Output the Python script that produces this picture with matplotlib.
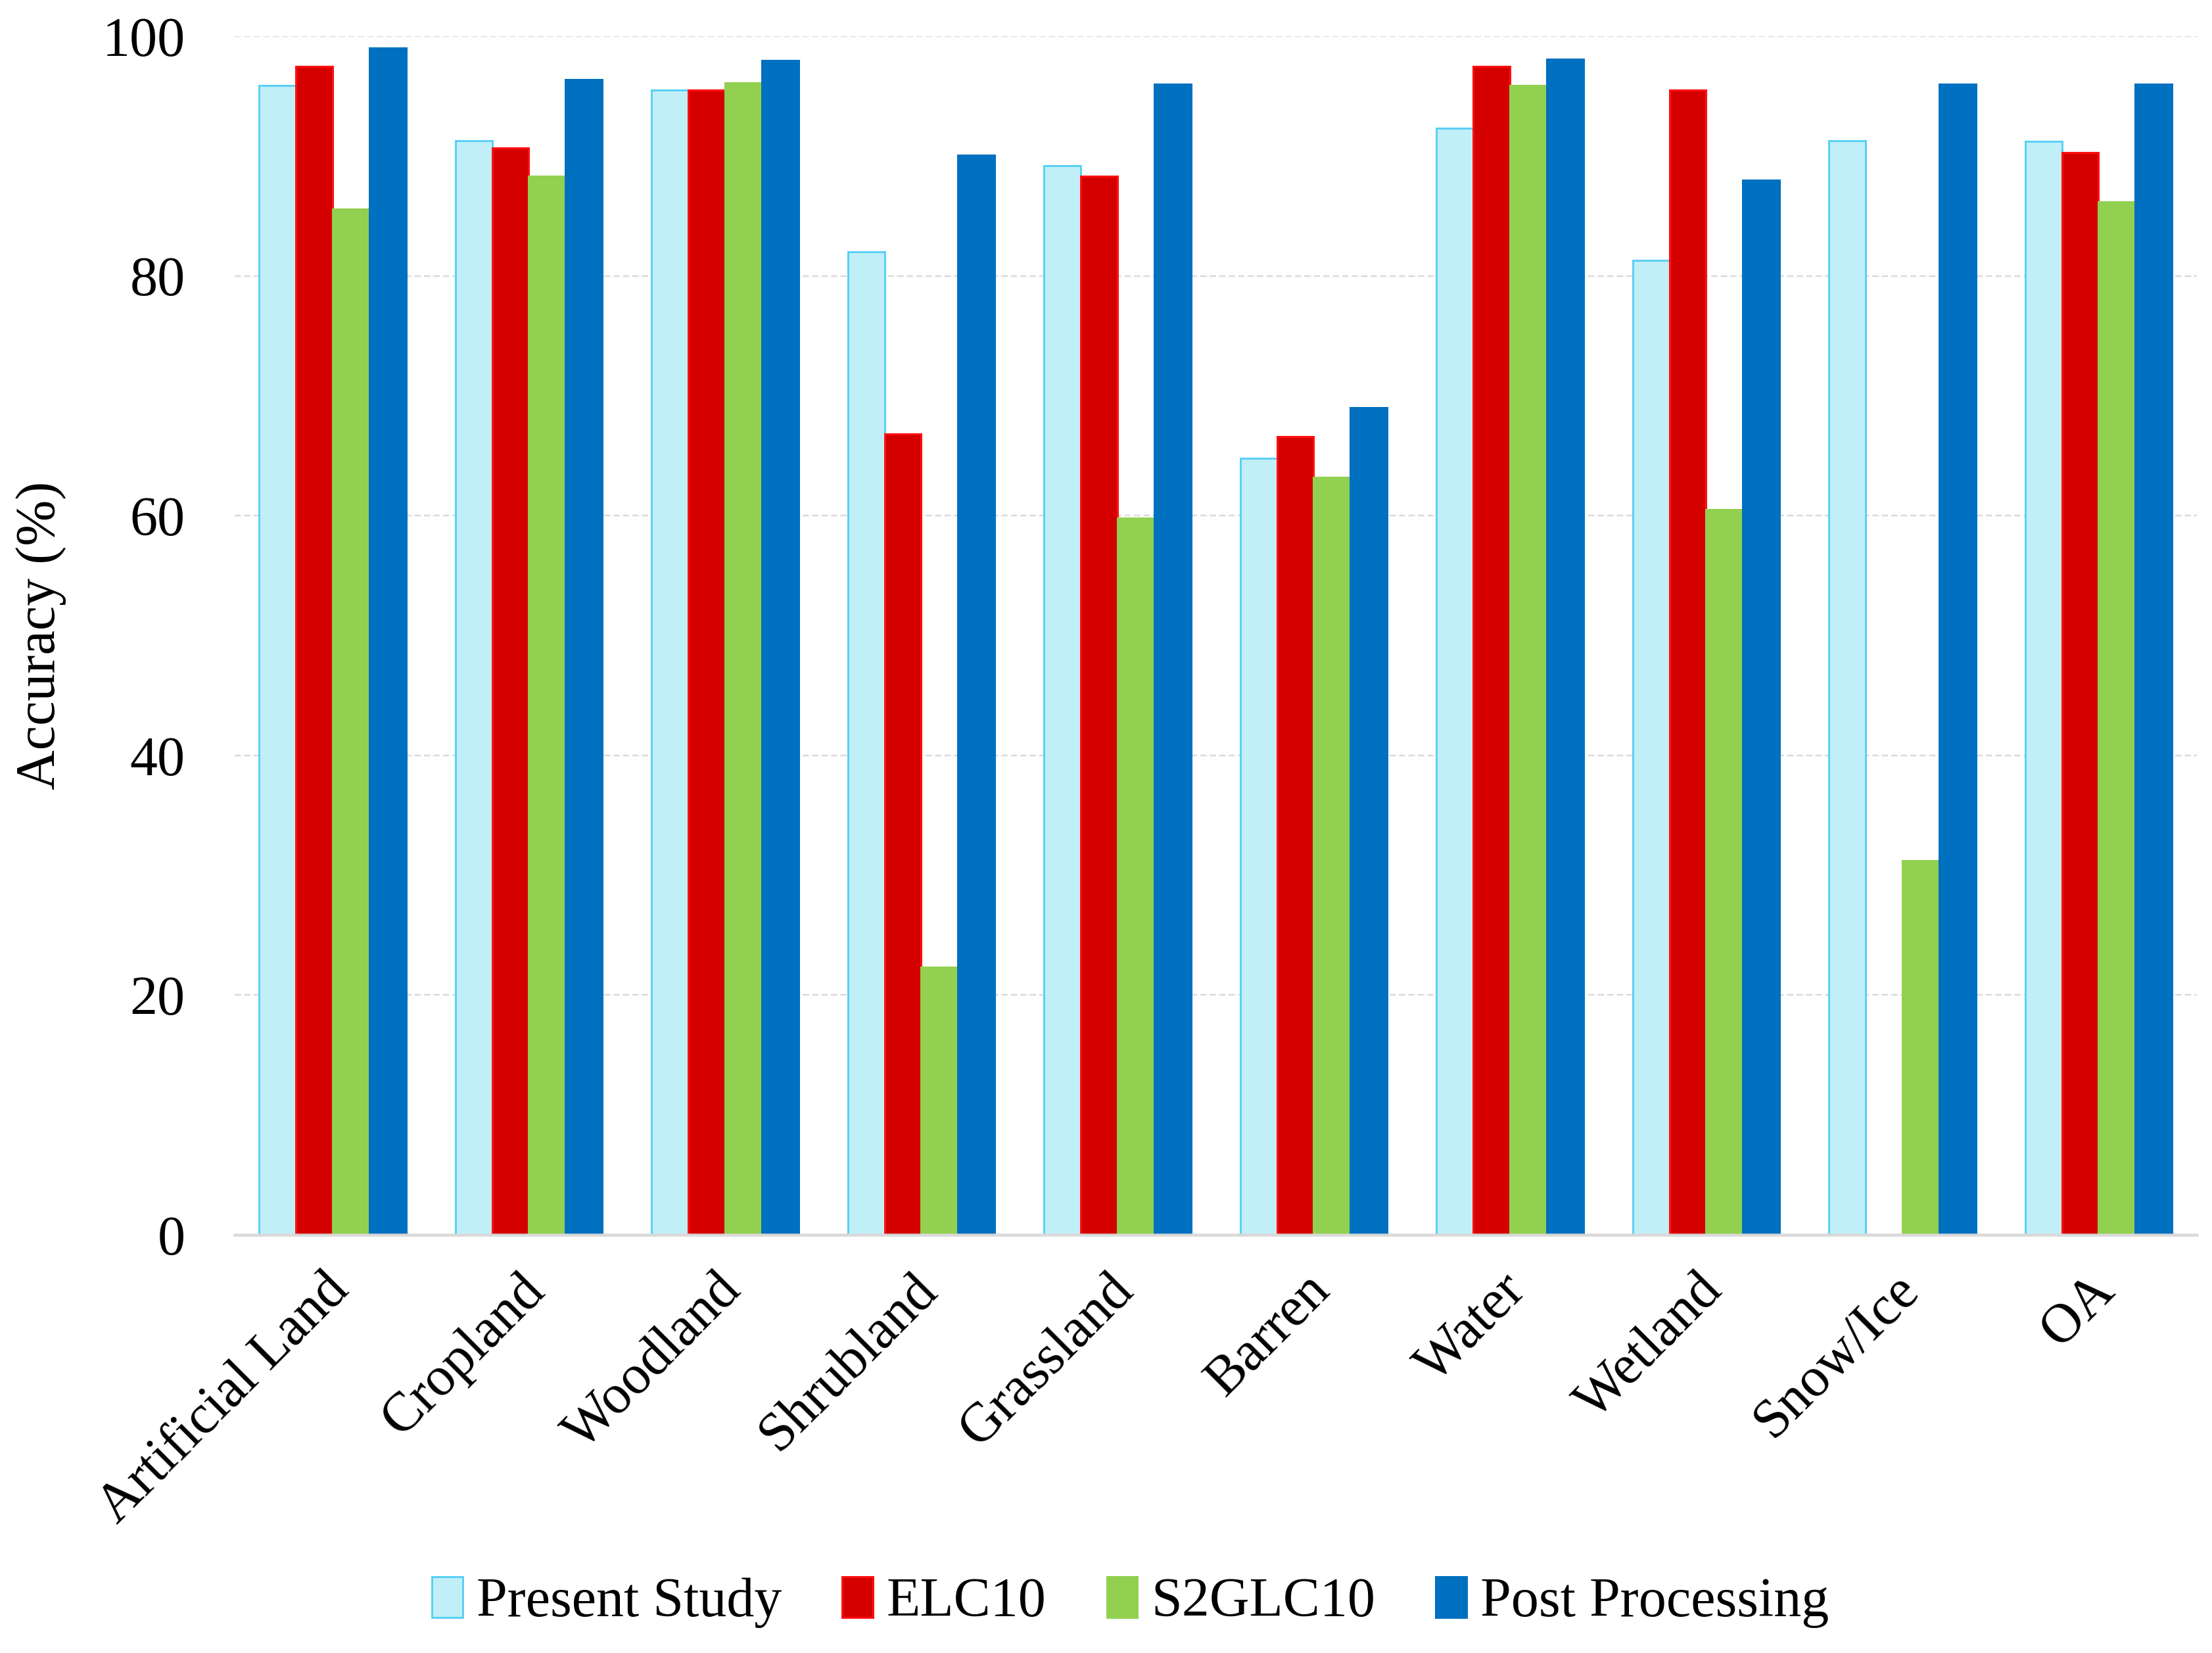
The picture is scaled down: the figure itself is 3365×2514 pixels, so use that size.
import numpy as np
import matplotlib
matplotlib.use("Agg")
import matplotlib.pyplot as plt
import matplotlib.transforms as mtransforms

categories = ["Artificial Land", "Cropland", "Woodland", "Shrubland", "Grassland",
              "Barren", "Water", "Wetland", "Snow/Ice", "OA"]
present_study = [95.9, 91.3, 95.5, 82.0, 89.2, 64.8, 92.3, 81.3, 91.3, 91.2]
elc10 = [97.5, 90.7, 95.5, 66.8, 88.3, 66.6, 97.5, 95.5, 0.0, 90.3]
s2glc10 = [85.6, 88.3, 96.1, 22.3, 59.8, 63.2, 95.9, 60.5, 31.2, 86.2]
post_processing = [99.0, 96.4, 98.0, 90.1, 96.0, 69.0, 98.1, 88.0, 96.0, 96.0]

series = [
    ("Present Study", present_study, "#C0EFF7", "#5BD0F5"),
    ("ELC10", elc10, "#D40000", "#FF1010"),
    ("S2GLC10", s2glc10, "#92D050", "#92D050"),
    ("Post Processing", post_processing, "#0070C0", "#0070C0"),
]

plt.rcParams['font.family'] = ['Liberation Serif', 'DejaVu Serif']

fig = plt.figure(figsize=(15.58, 11.64), dpi=216)
ax = fig.add_axes([0.106, 0.253, 0.887, 0.725])

x = np.arange(len(categories))
w = 0.1875
for i, (name, vals, fc, ec) in enumerate(series):
    ax.bar(x + (i - 1.5) * w, vals, width=w, color=fc, edgecolor=ec,
           linewidth=1.0, label=name, zorder=3)

ax.set_xlim(-0.5, len(categories) - 0.5)
ax.set_ylim(0, 100)
ax.set_yticks([0, 20, 40, 60, 80, 100])
ax.yaxis.grid(True, linestyle=(0, (4, 2)), color="#D9D9D9", linewidth=0.8, zorder=0)
ax.set_axisbelow(True)

for s in ["top", "right", "left"]:
    ax.spines[s].set_visible(False)
ax.spines["bottom"].set_color("#D9D9D9")
ax.spines["bottom"].set_linewidth(1.5)
ax.spines["bottom"].set_zorder(4)

ax.tick_params(axis="both", length=0, labelsize=28)
ax.tick_params(axis="y", pad=25)
ax.set_xticks(x)
ax.set_xticklabels(categories, rotation=45, ha="right", rotation_mode="anchor")
ax.tick_params(axis="x", pad=10)
# nudge category labels down-left along their direction
shift = mtransforms.ScaledTranslation(-5 / 72, -5 / 72, fig.dpi_scale_trans)
for lab in ax.get_xticklabels():
    lab.set_transform(lab.get_transform() + shift)
ax.set_ylabel("Accuracy (%)", fontsize=28, labelpad=18)

fig.legend(loc="lower center", bbox_to_anchor=(0.511, 0.0), ncol=4, frameon=False,
           fontsize=28, handlelength=0.55, handleheight=0.75, handletextpad=0.25,
           columnspacing=1.1, borderaxespad=0.05)

fig.savefig("out.png", dpi=216)
